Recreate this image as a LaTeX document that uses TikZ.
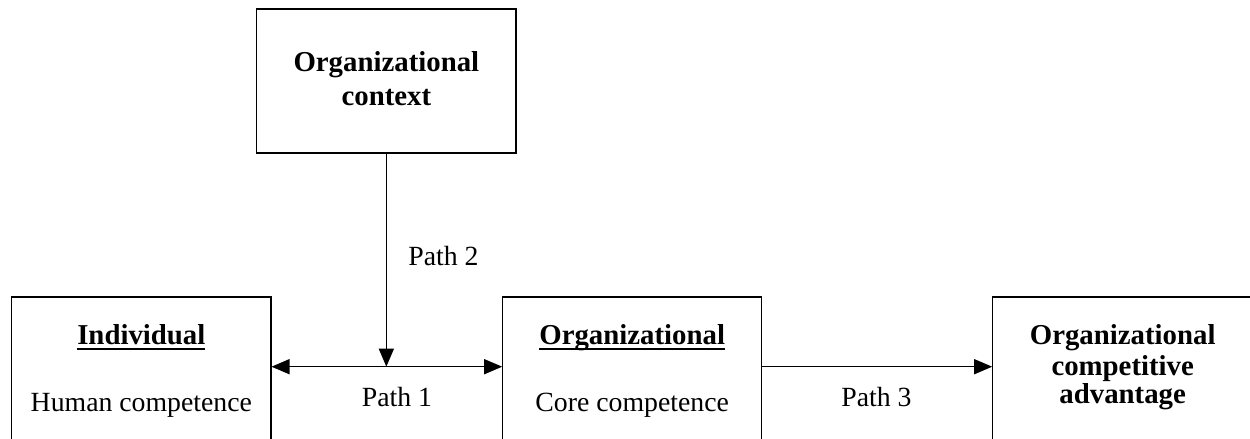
\documentclass[tikz,border=0pt]{standalone}
\usepackage{fontspec}
\setmainfont{Liberation Serif}
\newsavebox{\ulsave}
\newcommand{\ulbox}[1]{\sbox{\ulsave}{#1}\rlap{\rule[-3.2pt]{\wd\ulsave}{1.1pt}}\usebox{\ulsave}}
\usetikzlibrary{arrows.meta}
\begin{document}
\begin{tikzpicture}[x=0.02cm,y=-0.02cm,
  box/.style={draw, line width=0.6pt, rectangle, inner sep=0pt},
  lbl/.style={anchor=base, inner sep=0pt, font=\fontsize{15.8}{18}\selectfont},
  bl/.style={anchor=base, inner sep=0pt, font=\fontsize{16.4}{18}\selectfont\bfseries},
  conn/.style={line width=0.75pt, -{Triangle[length=0.36cm,width=0.3cm]}},
  dconn/.style={line width=0.75pt, {Triangle[length=0.36cm,width=0.3cm]}-{Triangle[length=0.36cm,width=0.3cm]}},
]
\useasboundingbox (0,0) rectangle (1250,439);
% boxes
\node[box, minimum width=5.186cm, minimum height=2.88cm] (ctx) at (386.35,81) {};
\node[box, minimum width=5.186cm, minimum height=3.26cm] (ind) at (141.35,378.5) {};
\node[box, minimum width=5.18cm, minimum height=3.26cm] (org) at (632.2,378.5) {};
\node[box, minimum width=5.2cm, minimum height=3.26cm] (adv) at (1122.7,378.5) {};
% texts
\node[bl] (ctx1) at (386.35,71.7) {Organizational};
\node[bl] (ctx2) at (386.35,106) {context};
\node[bl] (ind1) at (141.35,344) {\ulbox{Individual}};
\node[lbl] (ind2) at (141.35,411.5) {Human competence};
\node[bl] (org1) at (632.2,344) {\ulbox{Organizational}};
\node[lbl] (org2) at (632.2,411.5) {Core competence};
\node[bl] (adv1) at (1122.7,344.3) {Organizational};
\node[bl] (adv2) at (1122.7,375) {competitive};
\node[bl] (adv3) at (1122.7,403.3) {advantage};
% connectors
\coordinate (hy) at (0,366.7);
\draw[conn] (ctx.south) -- (ctx.south |- hy);
\draw[dconn] (ind.east |- hy) -- (org.west |- hy);
\draw[conn] (org.east |- hy) -- (adv.west |- hy);
% path labels
\node[lbl, anchor=base west] (p2) at (408,265) {Path 2};
\node[lbl] (p1) at (397,406.7) {Path 1};
\node[lbl] (p3) at (876.5,406.7) {Path 3};
\end{tikzpicture}
\end{document}
